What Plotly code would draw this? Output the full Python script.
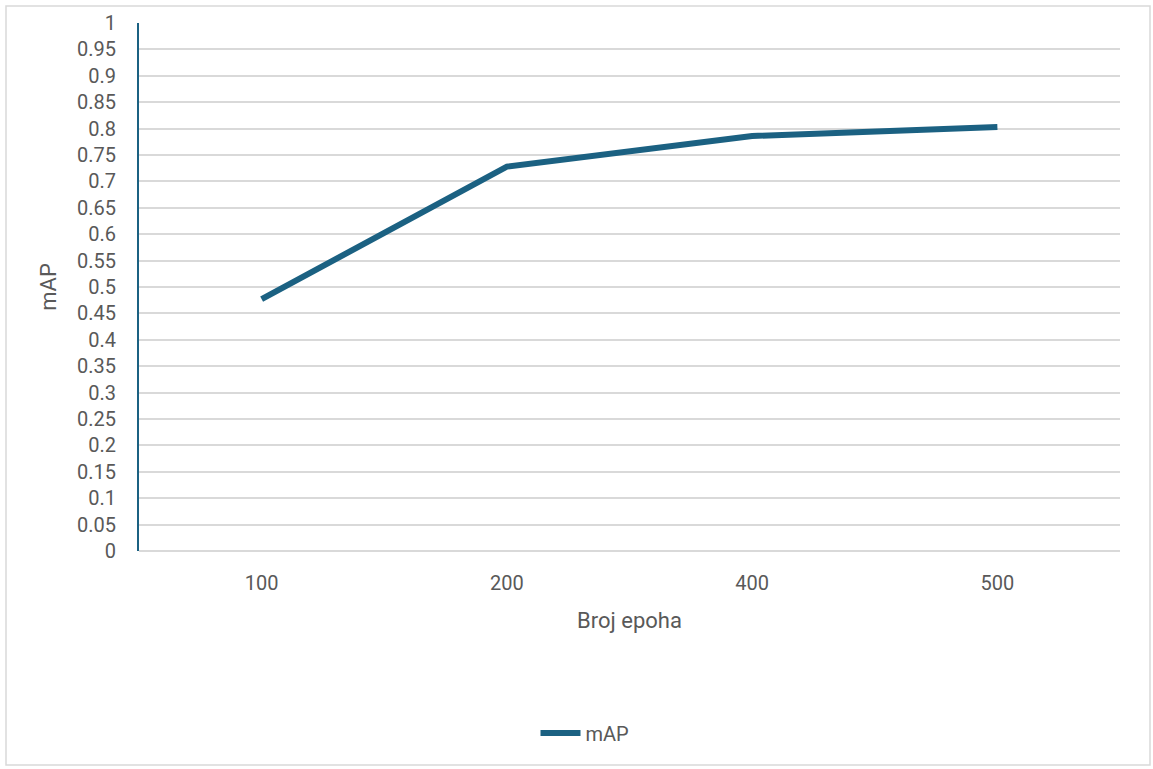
import plotly.graph_objects as go

categories = ["100", "200", "400", "500"]
map_values = [0.477, 0.728, 0.786, 0.803]
y_ticks = [round(i * 0.05, 2) for i in range(21)]
y_tick_labels = ["0" if v == 0 else ("1" if v == 1 else f"{v:g}") for v in y_ticks]

line_color = "#1b6182"
text_color = "#595959"
font_family = "Roboto, 'Open Sans', sans-serif"

W, H = 1153, 769
L, R, T, B = 139, 33, 23, 218
pw, ph = W - L - R, H - T - B

fig = go.Figure()
fig.add_trace(go.Scatter(
    x=categories, y=map_values, mode="lines", name="mAP",
    line=dict(color=line_color, width=6, shape="linear"),
))

fig.update_layout(
    width=W, height=H,
    margin=dict(l=L, r=R, t=T, b=B),
    paper_bgcolor="white", plot_bgcolor="white",
    font=dict(family=font_family, color=text_color, size=20),
    showlegend=True,
    legend=dict(orientation="h", x=(585 - L) / pw, xanchor="center", y=-(733 - 551) / ph, yanchor="middle",
                font=dict(size=20, color=text_color), itemwidth=40),
    xaxis=dict(
        type="category", range=[-0.5, 3.5], showgrid=False, showline=False,
        ticks="", ticklabelstandoff=18, tickfont=dict(size=20, color=text_color),
        title=dict(text="Broj epoha", font=dict(size=22, color=text_color), standoff=18),
    ),
    yaxis=dict(
        range=[0, 1], tickvals=y_ticks, ticktext=y_tick_labels,
        showgrid=True, gridcolor="#d9d9d9", gridwidth=1.5,
        zeroline=True, zerolinecolor="#d9d9d9", zerolinewidth=1.5,
        showline=True, linecolor=line_color, linewidth=2,
        ticks="", ticklabelstandoff=17,
        tickfont=dict(size=20, color=text_color),
        title=dict(text="mAP", font=dict(size=22, color=text_color), standoff=14),
    ),
    shapes=[dict(type="rect", xref="paper", yref="paper",
                 x0=(6 - L) / pw, x1=(1150 - L) / pw,
                 y0=-(765 - (H - B)) / ph, y1=1 + (T - 6) / ph,
                 line=dict(color="#d9d9d9", width=1.5), fillcolor="rgba(0,0,0,0)", layer="below")],
)

fig.write_html("out.html", config={"displayModeBar": False},
               post_script="document.body.style.margin='0px';")
